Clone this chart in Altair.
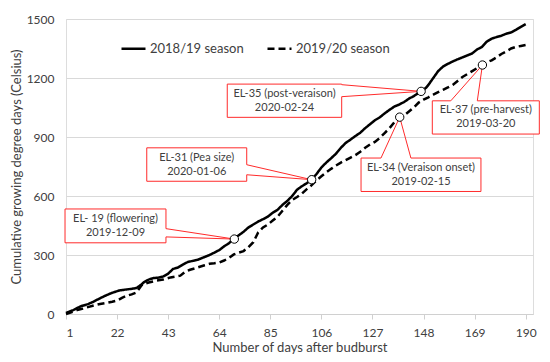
import altair as alt
import pandas as pd

# ---- series ----
days_1819 = [1, 4, 7, 10, 12, 15, 17, 19, 21, 23, 26, 28, 30, 32, 33, 35, 37, 39, 41, 43, 45, 47, 49, 51,
             53, 55, 57, 60, 62, 64, 66, 68, 70, 72, 74, 76, 78, 80, 82, 84, 86, 88, 90, 92, 94, 96, 98,
             100, 102, 104, 106, 108, 110, 112, 114, 116, 118, 120, 122, 124, 126, 128, 130, 132, 134,
             136, 138, 140, 142, 144, 146, 147, 149, 150, 152, 154, 156, 158, 160, 162, 164, 166, 168,
             170, 172, 174, 176, 178, 180, 182, 184, 186, 188, 190]
gdd_1819 = [5, 20, 39, 50, 61, 80, 92, 103, 112, 120, 125, 128, 132, 150, 161, 175, 183, 185, 191, 205,
            229, 236, 251, 264, 270, 275, 285, 300, 312, 325, 344, 360, 381, 400, 418, 440, 455, 470, 482,
            495, 515, 530, 555, 575, 600, 632, 650, 665, 683, 712, 745, 770, 792, 815, 845, 870, 887, 905,
            922, 945, 965, 985, 1000, 1020, 1038, 1055, 1065, 1078, 1095, 1108, 1125, 1132, 1150, 1165,
            1200, 1235, 1258, 1272, 1284, 1295, 1305, 1315, 1325, 1345, 1358, 1385, 1400, 1408, 1415,
            1425, 1432, 1445, 1460, 1474]

days_1920 = [1, 4, 6, 8, 10, 12, 15, 18, 20, 22, 24, 26, 28, 30, 32, 33, 35, 38, 41, 44, 46, 48, 50, 52,
             54, 56, 58, 60, 62, 64, 66, 68, 70, 72, 74, 76, 78, 80, 82, 84, 86, 88, 90, 92, 94, 96, 98,
             100, 102, 104, 106, 108, 110, 112, 114, 116, 118, 120, 122, 124, 126, 128, 130, 132, 134,
             136, 138, 140, 142, 144, 146, 148, 150, 152, 154, 156, 158, 160, 162, 164, 166, 168, 170,
             172, 174, 176, 178, 180, 182, 184, 186, 188, 190]
gdd_1920 = [0, 12, 22, 28, 35, 42, 51, 57, 62, 68, 82, 93, 100, 110, 145, 153, 160, 169, 175, 186, 190,
            195, 215, 225, 232, 240, 248, 255, 258, 262, 272, 285, 303, 312, 320, 340, 365, 415, 440, 455,
            475, 495, 525, 555, 580, 595, 612, 635, 655, 680, 700, 720, 738, 755, 770, 782, 795, 808, 825,
            845, 862, 875, 895, 920, 945, 975, 996, 1010, 1030, 1050, 1075, 1090, 1102, 1115, 1128, 1140,
            1152, 1165, 1185, 1205, 1220, 1235, 1250, 1266, 1280, 1290, 1305, 1322, 1335, 1350, 1358,
            1363, 1368]

seasons = ["2018/19 season", "2019/20 season"]
x_ticks = [1, 22, 43, 64, 85, 106, 127, 148, 169, 190]
y_ticks = [0, 300, 600, 900, 1200, 1500]

# ---- annotations (stage, date, marked point, callout box, wedge base) ----
stage_names = ["EL- 19 (flowering)", "EL-31 (Pea size)", "EL-35 (post-veraison)",
               "EL-34 (Veraison onset)", "EL-37 (pre-harvest)"]
stage_dates = ["2019-12-09", "2020-01-06", "2020-02-24", "2019-02-15", "2019-03-20"]
point_day = [70.2, 102, 147, 138.2, 172.2]
point_gdd = [381, 683, 1132, 1001, 1266]
box_x1 = [0.6, 34.2, 67.3, 122.3, 151.6]
box_x2 = [42.1, 75.3, 114.35, 171.6, 195.6]
box_top = [534, 845, 1169, 793, 1084]
box_bot = [362, 675, 1000, 623, 915]
wedge_side = ["right", "right", "right", "top", "top"]
wedge_a = [434, 759, 1166, 130.5, 159.2]
wedge_b = [392, 708, 1105, 142.8, 170.1]

FONT = "Lato"
TXT = "#404040"
RED = "#ff2b2b"

series = pd.DataFrame(
    {"day": days_1819 + days_1920,
     "gdd": gdd_1819 + gdd_1920,
     "season": [seasons[0]] * len(days_1819) + [seasons[1]] * len(days_1920)}
)

ann = pd.DataFrame({
    "name": stage_names, "date": stage_dates, "pd": point_day, "pg": point_gdd,
    "x1": box_x1, "x2": box_x2, "yt": box_top, "yb": box_bot,
})
ann["cx"] = (ann["x1"] + ann["x2"]) / 2
ann["cy"] = (ann["yt"] + ann["yb"]) / 2

rows = []
for i in range(len(stage_names)):
    x1, x2, yt, yb = box_x1[i], box_x2[i], box_top[i], box_bot[i]
    ap = (point_day[i], point_gdd[i])
    if wedge_side[i] == "right":
        pts = [(x1, yt), (x2, yt), (x2, wedge_a[i]), ap, (x2, wedge_b[i]), (x2, yb), (x1, yb), (x1, yt)]
    else:
        pts = [(x1, yt), (wedge_a[i], yt), ap, (wedge_b[i], yt), (x2, yt), (x2, yb), (x1, yb), (x1, yt)]
    for k, (px, py) in enumerate(pts):
        rows.append({"id": i, "k": k, "x": px, "y": py})
outline = pd.DataFrame(rows)

xscale = alt.Scale(domain=[1, 193], nice=False, zero=False)
yscale = alt.Scale(domain=[0, 1500], nice=False)

lines = alt.Chart(series).mark_line(color="black", strokeWidth=2.5).encode(
    x=alt.X("day:Q", scale=xscale,
            axis=alt.Axis(values=x_ticks, grid=False, title="Number of days after budburst",
                          domainColor="#d0d0d0", tickColor="#d0d0d0", tickSize=5,
                          labelPadding=8, labelFontSize=12, titleFontSize=13,
                          titleFontWeight="normal", titlePadding=3, labelColor=TXT,
                          titleColor=TXT, labelFont=FONT, titleFont=FONT)),
    y=alt.Y("gdd:Q", scale=yscale,
            axis=alt.Axis(values=y_ticks, grid=True, gridColor="#d9d9d9", domain=False,
                          ticks=False, labelPadding=12, labelFontSize=12, format="d",
                          title="Cumulative growing degree days (Celsius)", titleFontSize=13,
                          titleFontWeight="normal", titlePadding=3, labelColor=TXT,
                          titleColor=TXT, labelFont=FONT, titleFont=FONT)),
    strokeDash=alt.StrokeDash(
        "season:N",
        scale=alt.Scale(domain=seasons, range=[[1, 0], [7, 4]]),
        legend=alt.Legend(title=None, orient="none", legendX=54, legendY=16,
                          direction="horizontal", symbolType="stroke", symbolSize=576,
                          symbolStrokeWidth=2.5, symbolStrokeColor="black",
                          labelFontSize=13, labelFont=FONT, labelColor=TXT,
                          labelOffset=3, columnPadding=18, padding=0),
    ),
    order="day:Q",
)

boxes = alt.Chart(ann).mark_rect(fill="white").encode(
    x=alt.X("x1:Q", scale=xscale), x2="x2:Q",
    y=alt.Y("yt:Q", scale=yscale), y2="yb:Q",
)

outl = alt.Chart(outline).mark_line(color=RED, strokeWidth=1).encode(
    x=alt.X("x:Q", scale=xscale), y=alt.Y("y:Q", scale=yscale),
    detail="id:N", order="k:Q",
)

txt1 = alt.Chart(ann).mark_text(font=FONT, fontSize=11, color=TXT, dy=-7).encode(
    x=alt.X("cx:Q", scale=xscale), y=alt.Y("cy:Q", scale=yscale), text="name:N")
txt2 = alt.Chart(ann).mark_text(font=FONT, fontSize=11, color=TXT, dy=7).encode(
    x=alt.X("cx:Q", scale=xscale), y=alt.Y("cy:Q", scale=yscale), text="date:N")

pts = alt.Chart(ann).mark_point(shape="circle", filled=True, fill="white", stroke="black",
                                strokeWidth=1, size=70, opacity=1).encode(
    x=alt.X("pd:Q", scale=xscale), y=alt.Y("pg:Q", scale=yscale))

chart = alt.layer(lines, boxes, outl, txt1, txt2, pts).properties(
    width=467, height=295,
    autosize=alt.AutoSizeParams(type="none"),
    padding={"left": 58, "top": 11, "right": 7, "bottom": 40},
).configure_view(stroke=None).configure(background="white")

chart.save("out.html", embed_options={"renderer": "svg", "actions": False})
